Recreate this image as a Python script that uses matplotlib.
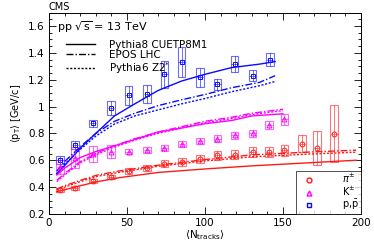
import matplotlib
matplotlib.use("Agg")
import matplotlib.pyplot as plt
import matplotlib.patches as patches
from matplotlib.ticker import MultipleLocator
from matplotlib.lines import Line2D

plt.rcParams['font.family'] = ['DejaVu Sans']

# measured points
pi_x = [7, 16.5, 28, 40, 51, 63, 74, 85.5, 97, 108, 119, 130.5, 141, 151, 162, 172, 183]
pi_y = [0.378, 0.395, 0.442, 0.474, 0.52, 0.543, 0.575, 0.587, 0.612, 0.637, 0.642, 0.661, 0.661, 0.674, 0.724, 0.691, 0.798]
pi_sys = [0.012, 0.014, 0.015, 0.016, 0.02, 0.022, 0.025, 0.028, 0.03, 0.035, 0.035, 0.035, 0.035, 0.04, 0.065, 0.13, 0.21]

k_x = [7, 16.5, 28, 40, 51, 63, 74, 85.5, 97, 108, 119, 130.5, 141, 151]
k_y = [0.55, 0.62, 0.645, 0.665, 0.665, 0.675, 0.69, 0.72, 0.743, 0.76, 0.785, 0.80, 0.86, 0.905]
k_sys = [0.05, 0.075, 0.06, 0.05, 0.02, 0.02, 0.02, 0.02, 0.025, 0.025, 0.025, 0.025, 0.03, 0.04]

p_x = [7, 16.5, 28, 40, 51, 63, 74, 85, 97, 108, 119, 130.5, 141.5]
p_y = [0.60, 0.715, 0.876, 0.99, 1.085, 1.094, 1.24, 1.33, 1.217, 1.165, 1.318, 1.23, 1.35]
p_sys = [0.03, 0.03, 0.025, 0.05, 0.07, 0.07, 0.1, 0.11, 0.07, 0.04, 0.06, 0.04, 0.05]

# model curves: Pythia8 CUETP8M1 (solid), EPOS LHC (dash-dot), Pythia6 Z2* (dotted)
mc_x = [5, 10, 20, 30, 42, 55, 70, 85, 100, 117, 135, 145]
p_py8 = [0.50, 0.56, 0.69, 0.80, 0.93, 1.02, 1.12, 1.19, 1.24, 1.29, 1.316, 1.335]
p_epos = [0.52, 0.59, 0.70, 0.80, 0.89, 0.95, 1.007, 1.05, 1.09, 1.14, 1.18, 1.23]
p_py6 = [0.50, 0.57, 0.68, 0.78, 0.87, 0.93, 0.975, 1.02, 1.06, 1.11, 1.155, 1.187]

mk_x = [5, 10, 20, 30, 40, 55, 70, 85, 100, 117, 130, 150]
k_py8 = [0.49, 0.54, 0.62, 0.665, 0.70, 0.755, 0.81, 0.84, 0.872, 0.896, 0.93, 0.946]
k_epos = [0.45, 0.50, 0.59, 0.65, 0.70, 0.76, 0.81, 0.85, 0.89, 0.92, 0.95, 0.98]
k_py6 = [0.44, 0.49, 0.58, 0.64, 0.69, 0.75, 0.80, 0.84, 0.88, 0.91, 0.94, 0.97]

mpi_x = [5, 10, 20, 31, 45, 70, 100, 130, 165, 197]
pi_py8 = [0.365, 0.38, 0.41, 0.44, 0.47, 0.509, 0.535, 0.558, 0.58, 0.60]
pi_epos = [0.385, 0.41, 0.45, 0.49, 0.52, 0.563, 0.605, 0.64, 0.66, 0.675]
pi_py6 = [0.38, 0.40, 0.44, 0.48, 0.51, 0.555, 0.595, 0.625, 0.645, 0.66]

c_pi = '#ff1a1a'
c_k = '#ff00ff'
c_p = '#0a0aff'

ls_epos = (0, (5, 1.5, 1, 1.5))
ls_py6 = (0, (1.5, 1.2))


def draw_points(ax, xs, ys, sys, col, marker):
    w = 5.0
    for x, y, s in zip(xs, ys, sys):
        box = patches.Rectangle((x - w / 2, y - s), w, 2 * s, linewidth=0.8,
                                edgecolor=col, facecolor='none', alpha=0.6)
        ax.add_patch(box)
    ax.errorbar(xs, ys, xerr=2.0, yerr=sys, fmt='none', ecolor=col, elinewidth=0.6, alpha=0.7)
    ax.plot(xs, ys, linestyle='none', marker=marker, markersize=3.5, markerfacecolor='none',
            markeredgecolor=col, markeredgewidth=0.7)


fig = plt.figure(figsize=(3.74, 2.42), dpi=100)
ax = fig.add_axes([0.131, 0.116, 0.834, 0.832])

for cx, y8, ye, y6, col in [(mc_x, p_py8, p_epos, p_py6, c_p),
                            (mk_x, k_py8, k_epos, k_py6, c_k),
                            (mpi_x, pi_py8, pi_epos, pi_py6, c_pi)]:
    ax.plot(cx, y8, color=col, lw=1.0, ls='-')
    ax.plot(cx, ye, color=col, lw=1.0, ls=ls_epos)
    ax.plot(cx, y6, color=col, lw=1.0, ls=ls_py6)

draw_points(ax, p_x, p_y, p_sys, c_p, 's')
draw_points(ax, k_x, k_y, k_sys, c_k, '^')
draw_points(ax, pi_x, pi_y, pi_sys, c_pi, 'o')

ax.set_xlim(0, 200)
ax.set_ylim(0.2, 1.7)
ax.xaxis.set_major_locator(MultipleLocator(50))
ax.xaxis.set_minor_locator(MultipleLocator(10))
ax.yaxis.set_minor_locator(MultipleLocator(0.05))
ax.set_yticks([0.2, 0.4, 0.6, 0.8, 1.0, 1.2, 1.4, 1.6])
ax.set_yticklabels(['0.2', '0.4', '0.6', '0.8', '1', '1.2', '1.4', '1.6'])
ax.tick_params(which='both', direction='in', top=True, right=True, labelsize=7.5, width=0.6)
ax.tick_params(which='major', length=5, pad=3)
ax.tick_params(which='minor', length=2.5)
for sp in ax.spines.values():
    sp.set_linewidth(0.7)

ax.set_xlabel(r'$\langle$N$_{\mathrm{tracks}}\rangle$', fontsize=7.5, labelpad=0)
ax.set_ylabel(r'$\langle$p$_{\mathrm{T}}\rangle$ [GeV/c]', fontsize=7, labelpad=4)
ax.text(0.0, 1.004, 'CMS', transform=ax.transAxes, fontsize=7, ha='left', va='bottom')
ax.text(0.025, 0.965, r'pp $\sqrt{\mathrm{s}}$ = 13 TeV', transform=ax.transAxes, fontsize=8,
        ha='left', va='top')

model_handles = [Line2D([], [], color='black', lw=1.0, ls='-'),
                 Line2D([], [], color='black', lw=1.0, ls=ls_epos),
                 Line2D([], [], color='black', lw=1.0, ls=ls_py6)]
leg1 = ax.legend(model_handles, ['Pythia8 CUETP8M1', 'EPOS LHC', r'Pythia6 Z2$^{*}$'],
                 loc='upper left', bbox_to_anchor=(0.035, 0.895), frameon=False, fontsize=7.5,
                 handlelength=2.8, labelspacing=0.0, borderpad=0.1, handletextpad=1.3)
ax.add_artist(leg1)

sp_handles = [Line2D([], [], ls='none', marker='o', markerfacecolor='none', markeredgecolor=c_pi, markersize=3.5),
              Line2D([], [], ls='none', marker='^', markerfacecolor='none', markeredgecolor=c_k, markersize=3.5),
              Line2D([], [], ls='none', marker='s', markerfacecolor='none', markeredgecolor=c_p, markersize=3.5)]
leg2 = ax.legend(sp_handles, [r'$\pi^{\pm}$', r'K$^{\pm}$', r'p,$\bar{\mathrm{p}}$'],
                 loc='lower right', fontsize=7, frameon=True, fancybox=False, edgecolor='black',
                 labelspacing=0.0, borderpad=0.15, handletextpad=2.2, borderaxespad=0.0,
                 handlelength=2.4)
leg2.get_frame().set_linewidth(0.6)

fig.savefig('out.png', dpi=100)
